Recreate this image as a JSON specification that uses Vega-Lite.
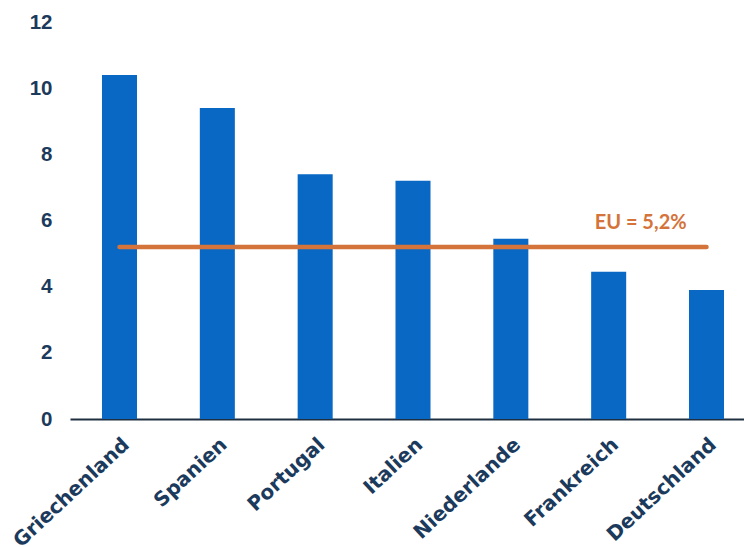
{
  "$schema": "https://vega.github.io/schema/vega-lite/v6.json",
  "autosize": "none",
  "padding": {"left": 70, "top": 22, "right": 0, "bottom": 128},
  "width": 674,
  "height": 397,
  "background": "white",
  "config": {"view": {"stroke": null}},
  "datasets": {
    "bars": [
      {"land": "Griechenland", "wert": 10.4},
      {"land": "Spanien", "wert": 9.4},
      {"land": "Portugal", "wert": 7.4},
      {"land": "Italien", "wert": 7.2},
      {"land": "Niederlande", "wert": 5.45},
      {"land": "Frankreich", "wert": 4.45},
      {"land": "Deutschland", "wert": 3.9}
    ],
    "eu": [
      {"land": "Griechenland", "wert": 5.2},
      {"land": "Deutschland", "wert": 5.2}
    ],
    "label": [
      {"land": "Frankreich", "wert": 5.2, "text": "EU = 5,2%"}
    ]
  },
  "encoding": {
    "x": {
      "field": "land", "type": "nominal", "sort": null,
      "scale": {"domain": ["Griechenland","Spanien","Portugal","Italien","Niederlande","Frankreich","Deutschland"], "range": [0, 686], "paddingInner": 0.642, "paddingOuter": 0.327},
      "axis": {"title": null, "labelAngle": -43, "ticks": false, "domainColor": "#1f2f40", "domainWidth": 2, "labelFont": "DejaVu Sans", "labelFontSize": 20, "labelFontWeight": "bold", "labelColor": "#1b3a5c", "labelPadding": 15}
    },
    "y": {
      "field": "wert", "type": "quantitative",
      "scale": {"domain": [0, 12]},
      "axis": {"title": null, "values": [0,2,4,6,8,10,12], "grid": false, "domain": false, "ticks": false, "labelFont": "Liberation Sans", "labelFontSize": 20.5, "labelFontWeight": "bold", "labelColor": "#1b3a5c", "labelPadding": 18}
    }
  },
  "layer": [
    {"data": {"name": "bars"}, "mark": {"type": "bar", "color": "#0868c4"}},
    {"data": {"name": "eu"}, "mark": {"type": "line", "color": "#d4733a", "strokeWidth": 4.5, "strokeCap": "round"}},
    {"data": {"name": "label"}, "mark": {"type": "text", "color": "#d4733a", "font": "Lato", "fontWeight": "bold", "fontSize": 20, "align": "center", "baseline": "alphabetic", "dx": 32, "dy": -18}, "encoding": {"text": {"field": "text"}}}
  ]
}
